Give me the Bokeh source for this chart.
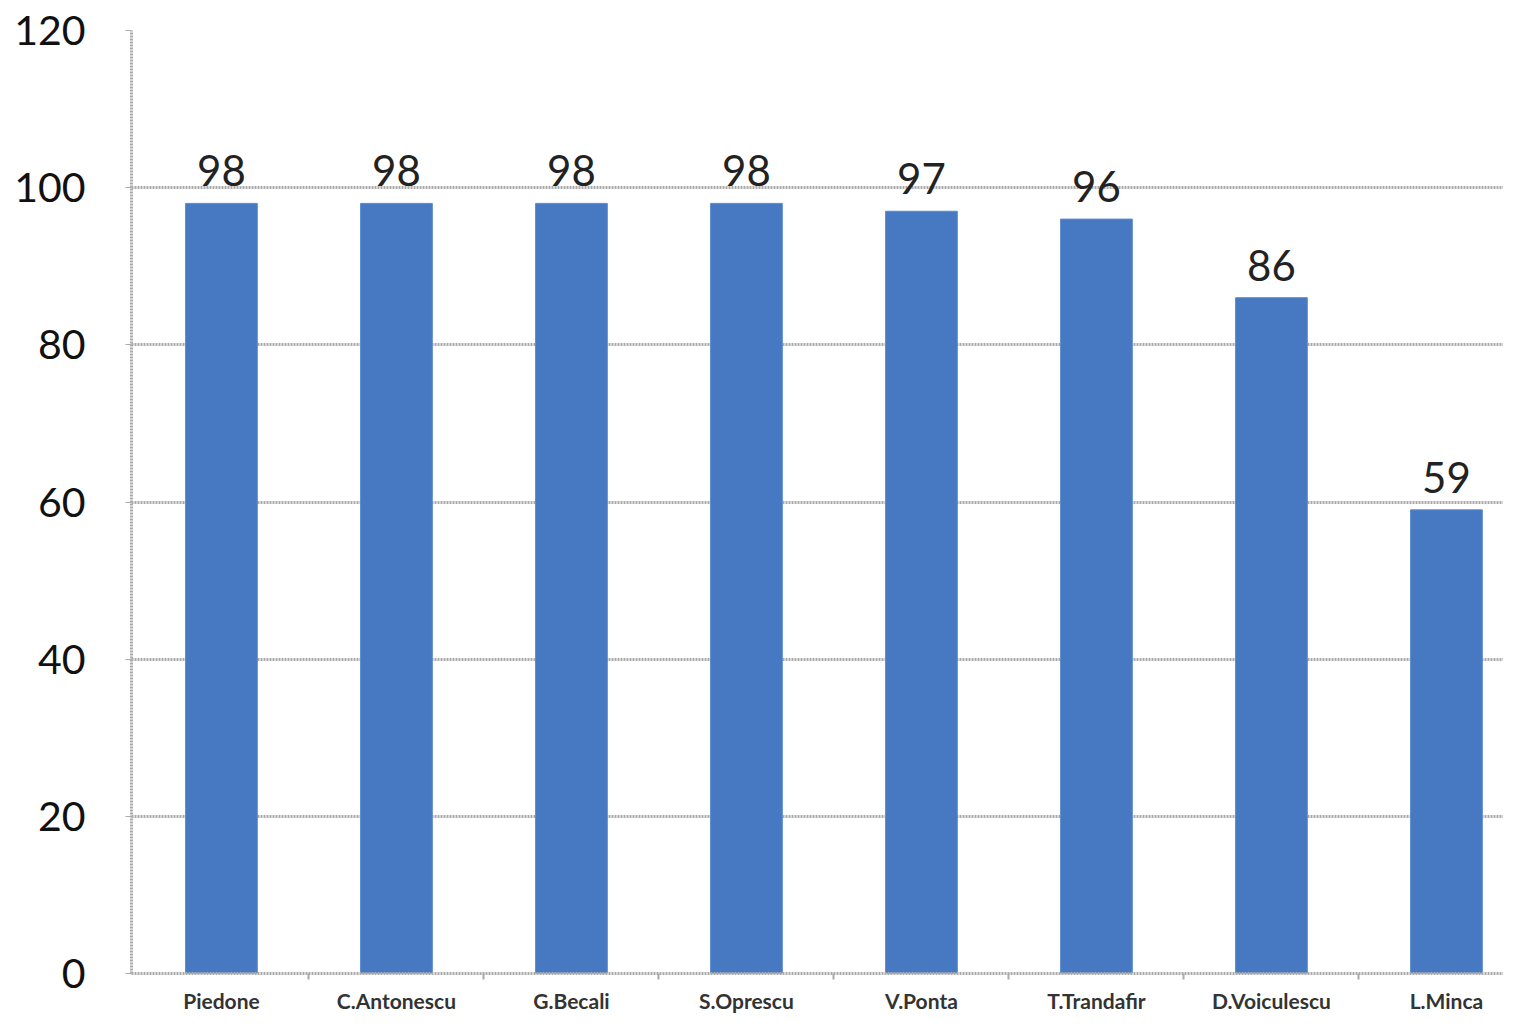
from bokeh.plotting import figure
from bokeh.models import ColumnDataSource, Range1d, FixedTicker
from bokeh.embed import file_html
from bokeh.resources import INLINE

categories = ["Piedone", "C.Antonescu", "G.Becali", "S.Oprescu", "V.Ponta",
              "T.Trandafir", "D.Voiculescu", "L.Minca"]
values = [98, 98, 98, 98, 97, 96, 86, 59]
y_ticks = [0, 20, 40, 60, 80, 100, 120]

xs = [i + 0.5 for i in range(len(categories))]
src = ColumnDataSource(dict(x=xs, top=values, label=[str(v) for v in values]))

p = figure(width=1503, height=1015, output_backend="svg", toolbar_location=None,
           x_range=Range1d(-0.014, 7.826), y_range=Range1d(0, 120),
           min_border_left=131, min_border_right=0, min_border_top=30, min_border_bottom=40)
p.outline_line_color = None
p.background_fill_color = "white"
p.border_fill_color = "white"

p.vbar(x="x", top="top", width=0.41, bottom=0, source=src,
       fill_color="#4679C2", line_color="#5B8BD0", line_width=1)

p.text(x="x", y="top", text="label", source=src, text_align="center",
       text_baseline="bottom", y_offset=-17, text_font_size="42px",
       text_color="#222222", text_font={"value": "Lato"})

# axes
p.xgrid.grid_line_color = None
p.ygrid.ticker = FixedTicker(ticks=y_ticks)
p.ygrid.grid_line_color = "#aaaaaa"
p.ygrid.grid_line_width = 3
p.ygrid.grid_line_dash = "2 1"

p.yaxis.ticker = FixedTicker(ticks=y_ticks)
p.yaxis.axis_line_color = "#aaaaaa"
p.yaxis.axis_line_width = 3
p.yaxis.axis_line_dash = "2 1"
p.yaxis.major_tick_line_color = "#aaaaaa"
p.yaxis.major_tick_in = 0
p.yaxis.major_tick_out = 6
p.yaxis.minor_tick_line_color = None
p.yaxis.major_label_text_font = "Lato"
p.yaxis.major_label_text_font_size = "41px"
p.yaxis.major_label_text_color = "#111111"
p.yaxis.major_label_standoff = 40

p.xaxis.ticker = FixedTicker(ticks=xs, minor_ticks=[float(i) for i in range(1, len(categories))])
p.xaxis.major_label_overrides = {x: c for x, c in zip(xs, categories)}
p.xaxis.axis_line_color = "#aaaaaa"
p.xaxis.axis_line_width = 3
p.xaxis.axis_line_dash = "2 1"
p.xaxis.major_tick_line_color = None
p.xaxis.minor_tick_line_color = "#aaaaaa"
p.xaxis.minor_tick_line_width = 2
p.xaxis.minor_tick_in = 0
p.xaxis.minor_tick_out = 6
p.xaxis.major_label_text_font = "Lato"
p.xaxis.major_label_text_font_style = "bold"
p.xaxis.major_label_text_font_size = "21px"
p.xaxis.major_label_text_color = "#333333"
p.xaxis.major_label_standoff = 8

open("out.html", "w").write(file_html(p, INLINE))
